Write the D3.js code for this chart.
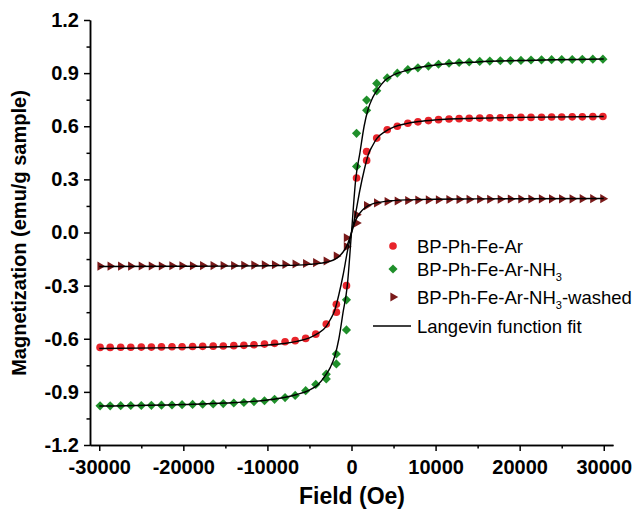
<!DOCTYPE html>
<meta charset="utf-8">
<style>
body { margin: 0; background: #fff; }
.axis path, .axis line { stroke: #000; stroke-width: 1.5px; }
.axis text { font-family: "Liberation Sans", Arial, sans-serif; font-weight: bold; font-size: 20px; fill: #000; }
.fit { fill: none; stroke: #000; stroke-width: 1.4px; }
</style>
<body>
<div id="chart"></div>
<script src="https://d3js.org/d3.v7.min.js"></script>
<script>
// tick values
var xTicks = [-30000, -20000, -10000, 0, 10000, 20000, 30000];
var xMinor = [-25000, -15000, -5000, 5000, 15000, 25000];
var yTicks = [-1.2, -0.9, -0.6, -0.3, 0.0, 0.3, 0.6, 0.9, 1.2];
var yMinor = [-1.05, -0.75, -0.45, -0.15, 0.15, 0.45, 0.75, 1.05];

// measured points [field (Oe), magnetization (emu/g sample)]
var ptsAr = [
  [-29900,-0.649],[-28700,-0.649],[-27450,-0.648],[-26250,-0.648],[-25000,-0.647],[-23800,-0.647],
  [-22600,-0.646],[-21350,-0.645],[-20150,-0.645],[-18900,-0.644],[-17700,-0.643],[-16450,-0.642],
  [-15250,-0.641],[-14000,-0.639],[-12800,-0.637],[-11600,-0.634],[-10350,-0.630],[-9150,-0.626],
  [-7900,-0.617],[-6700,-0.611],[-5450,-0.598],[-4250,-0.574],[-3000,-0.517],[-1800,-0.450],
  [-1800,-0.405],[-600,-0.300],[600,0.308],[1800,0.407],[1800,0.457],[3000,0.533],[4250,0.580],
  [5450,0.600],[6700,0.617],[7900,0.625],[9150,0.632],[10350,0.637],[11600,0.641],[12800,0.643],
  [14000,0.645],[15250,0.646],[16450,0.647],[17700,0.648],[18900,0.649],[20150,0.650],[21350,0.650],
  [22600,0.651],[23800,0.652],[25000,0.652],[26250,0.653],[27450,0.653],[28700,0.654],[29900,0.655]
];
var ptsNH3 = [
  [-29900,-0.979],[-28700,-0.979],[-27450,-0.978],[-26250,-0.977],[-25000,-0.977],[-23800,-0.976],
  [-22600,-0.975],[-21350,-0.974],[-20150,-0.972],[-18900,-0.971],[-17700,-0.970],[-16450,-0.968],
  [-15250,-0.966],[-14000,-0.963],[-12800,-0.960],[-11600,-0.955],[-10350,-0.950],[-9150,-0.942],
  [-7900,-0.932],[-6700,-0.920],[-5450,-0.893],[-4250,-0.858],[-3000,-0.827],[-3000,-0.800],
  [-1800,-0.742],[-1800,-0.686],[-600,-0.550],[-600,-0.380],[600,0.373],[600,0.560],[1800,0.690],
  [1800,0.748],[3000,0.800],[3000,0.842],[4250,0.873],[5450,0.900],[6700,0.920],[7900,0.930],
  [9150,0.940],[10350,0.950],[11600,0.956],[12800,0.960],[14000,0.963],[15250,0.966],[16450,0.968],
  [17700,0.970],[18900,0.971],[20150,0.972],[21350,0.974],[22600,0.975],[23800,0.976],[25000,0.977],
  [26250,0.977],[27450,0.978],[28700,0.979],[29900,0.979]
];
var ptsWashed = [
  [-29900,-0.190],[-28700,-0.190],[-27450,-0.190],[-26250,-0.190],[-25000,-0.189],[-23800,-0.189],
  [-22600,-0.189],[-21350,-0.188],[-20150,-0.188],[-18900,-0.188],[-17700,-0.187],[-16450,-0.187],
  [-15250,-0.186],[-14000,-0.186],[-12800,-0.185],[-11600,-0.184],[-10350,-0.183],[-9150,-0.182],
  [-7900,-0.180],[-6700,-0.178],[-5450,-0.175],[-4250,-0.170],[-3000,-0.161],[-1800,-0.133],
  [-600,-0.080],[-600,-0.030],[600,0.054],[600,0.100],[1800,0.152],[3000,0.167],[4250,0.175],
  [5450,0.178],[6700,0.181],[7900,0.183],[9150,0.184],[10350,0.185],[11600,0.186],[12800,0.187],
  [14000,0.187],[15250,0.188],[16450,0.188],[17700,0.188],[18900,0.189],[20150,0.189],[21350,0.189],
  [22600,0.190],[23800,0.190],[25000,0.190],[26250,0.190],[27450,0.191],[28700,0.191],[29900,0.191]
];

// Langevin fit curves
var fitFields = [-30000,-20000,-15000,-10000,-8000,-6500,-5000,-4000,-3000,-2500,-2000,-1500,-1000,-500,0,
                 500,1000,1500,2000,2500,3000,4000,5000,6500,8000,10000,15000,20000,30000];
var fitAr = [-0.655,-0.650,-0.645,-0.636,-0.627,-0.615,-0.595,-0.570,-0.530,-0.490,-0.440,-0.350,-0.240,-0.110,0,
             0.110,0.240,0.350,0.440,0.490,0.530,0.570,0.595,0.615,0.627,0.636,0.645,0.650,0.655];
var fitNH3 = [-0.980,-0.971,-0.963,-0.946,-0.932,-0.915,-0.890,-0.860,-0.800,-0.760,-0.700,-0.600,-0.450,-0.300,0,
              0.300,0.450,0.600,0.700,0.760,0.800,0.860,0.890,0.915,0.932,0.946,0.963,0.971,0.980];
var fitWashed = [-0.192,-0.191,-0.190,-0.188,-0.186,-0.184,-0.180,-0.176,-0.168,-0.162,-0.152,-0.135,-0.110,-0.070,0,
                 0.070,0.110,0.135,0.152,0.162,0.168,0.176,0.180,0.184,0.186,0.188,0.190,0.191,0.192];

var legendNames = ["BP-Ph-Fe-Ar", "BP-Ph-Fe-Ar-NH", "BP-Ph-Fe-Ar-NH"];
var colors = ["#e8242b", "#1f8f2a", "#7a1a1a"];

/* Set dimensions */
var width = 634, height = 510;
var svg = d3.select("#chart").append("svg")
    .attr("width", width)
    .attr("height", height);

/* Set the ranges */
var x = d3.scaleLinear().domain([-31100, 31100]).range([90, 613]);
var y = d3.scaleLinear().domain([-1.2, 1.2]).range([445, 20]);

// symbols
var circle = d3.symbol().type(d3.symbolCircle).size(46);
var diamond = d3.symbol().type(d3.symbolSquare).size(42);
var triangle = d3.symbol().type(d3.symbolTriangle).size(36);

function drawPoints(data, gen, color, rot) {
    svg.append("g").selectAll("path")
        .data(data)
        .enter().append("path")
        .attr("d", gen)
        .attr("fill", color)
        .attr("transform", function(d) {
            return "translate(" + x(d[0]) + "," + y(d[1]) + ") rotate(" + rot + ")";
        });
}
drawPoints(ptsNH3, diamond, colors[1], 45);
drawPoints(ptsAr, circle, colors[0], 0);
drawPoints(ptsWashed, triangle, colors[2], 90);

// fit lines on top of the markers
var fitLine = d3.line()
    .x(function(d, i) { return x(fitFields[i]); })
    .y(function(d) { return y(d); })
    .curve(d3.curveMonotoneX);
[fitAr, fitNH3, fitWashed].forEach(function(f) {
    svg.append("path").attr("class", "fit").attr("d", fitLine(f));
});

// Add the X Axis
svg.append("g")
    .attr("class", "axis")
    .attr("transform", "translate(0," + y(-1.2) + ")")
    .call(d3.axisBottom(x).tickValues(xTicks).tickSize(6).tickSizeOuter(0).tickPadding(9)
        .tickFormat(function(d) { return String(d); }));
svg.append("g")
    .attr("class", "axis")
    .attr("transform", "translate(0," + y(-1.2) + ")")
    .call(d3.axisBottom(x).tickValues(xMinor).tickSize(3.5).tickSizeOuter(0).tickFormat(""));

// Add the Y Axis
svg.append("g")
    .attr("class", "axis")
    .attr("transform", "translate(" + x(-31100) + ",0)")
    .call(d3.axisLeft(y).tickValues(yTicks).tickSize(6).tickSizeOuter(0).tickPadding(5)
        .tickFormat(function(d) { return d.toFixed(1); }));
svg.append("g")
    .attr("class", "axis")
    .attr("transform", "translate(" + x(-31100) + ",0)")
    .call(d3.axisLeft(y).tickValues(yMinor).tickSize(3.5).tickSizeOuter(0).tickFormat(""));

// axis titles
svg.append("text")
    .attr("x", 352)
    .attr("y", 504)
    .attr("text-anchor", "middle")
    .attr("font-family", "Liberation Sans, Arial, sans-serif")
    .attr("font-weight", "bold")
    .style("font-size", "23px")
    .text("Field (Oe)");
svg.append("text")
    .attr("transform", "translate(26,233) rotate(-90)")
    .attr("text-anchor", "middle")
    .attr("font-family", "Liberation Sans, Arial, sans-serif")
    .attr("font-weight", "bold")
    .style("font-size", "20px")
    .text("Magnetization (emu/g sample)");

// legend
var legend = svg.append("g")
    .attr("font-family", "Liberation Sans, Arial, sans-serif")
    .style("font-size", "18.5px");
var legY = [246, 269, 297];
var gens = [circle, diamond, triangle];
var rots = [0, 45, 90];
legendNames.forEach(function(name, i) {
    legend.append("path")
        .attr("d", gens[i])
        .attr("fill", colors[i])
        .attr("transform", "translate(393," + legY[i] + ") rotate(" + rots[i] + ")");
    var t = legend.append("text")
        .attr("x", 417)
        .attr("y", legY[i] + 6.5)
        .text(name);
    if (i > 0) {
        t.append("tspan").attr("dy", 5).style("font-size", "11px").text("3");
        if (i == 2) t.append("tspan").attr("dy", -5).text("-washed");
    }
});
legend.append("line")
    .attr("x1", 373).attr("x2", 411)
    .attr("y1", 326).attr("y2", 326)
    .attr("stroke", "#000")
    .attr("stroke-width", 1.5);
legend.append("text")
    .attr("x", 417)
    .attr("y", 332.5)
    .text("Langevin function fit");
</script>
</body>
